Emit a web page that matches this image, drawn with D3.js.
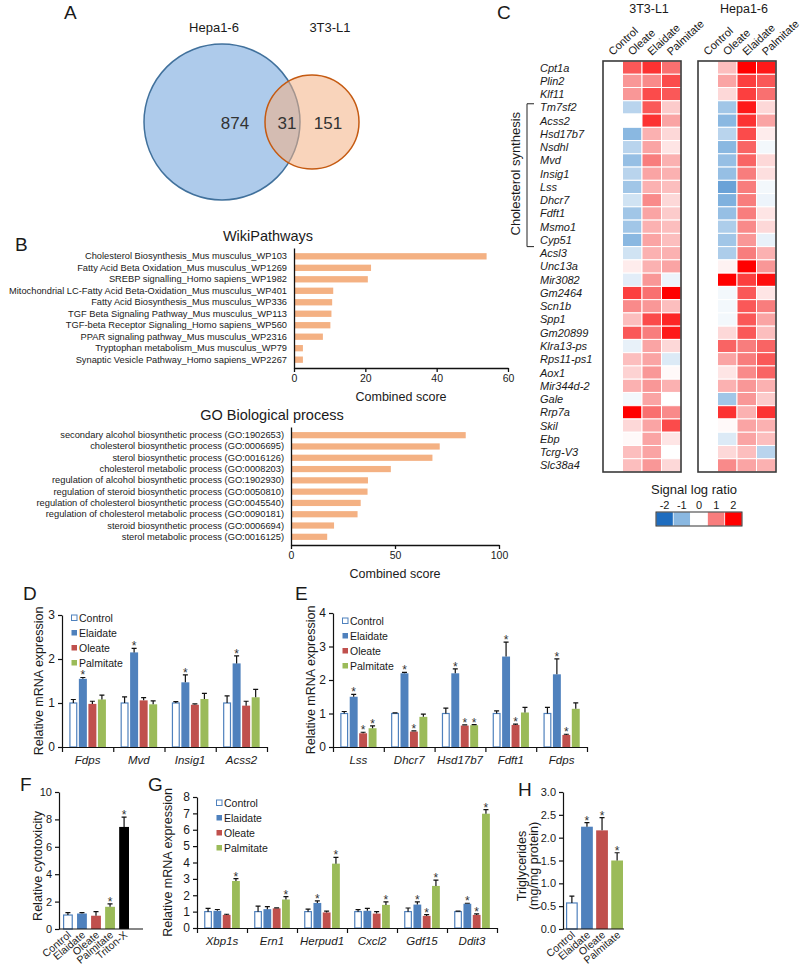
<!DOCTYPE html>
<html>
<head>
<meta charset="utf-8">
<script src="https://cdn.jsdelivr.net/npm/d3@7"></script>
<style>
  body { margin: 0; background: #fff; }
  svg text { font-family: Arial, "Liberation Sans", sans-serif; fill: #1a1a1a; }
</style>
</head>
<body>
<svg id="fig" width="800" height="967"></svg>
<script>
// ---------- data ----------
var vennSets = ["Hepa1-6", "3T3-L1"];
var vennCounts = [874, 31, 151];

var wikiTerms = ["Cholesterol Biosynthesis_Mus musculus_WP103",
    "Fatty Acid Beta Oxidation_Mus musculus_WP1269",
    "SREBP signalling_Homo sapiens_WP1982",
    "Mitochondrial LC-Fatty Acid Beta-Oxidation_Mus musculus_WP401",
    "Fatty Acid Biosynthesis_Mus musculus_WP336",
    "TGF Beta Signaling Pathway_Mus musculus_WP113",
    "TGF-beta Receptor Signaling_Homo sapiens_WP560",
    "PPAR signaling pathway_Mus musculus_WP2316",
    "Tryptophan metabolism_Mus musculus_WP79",
    "Synaptic Vesicle Pathway_Homo sapiens_WP2267"];
var wikiScores = [54, 21.6, 20.7, 11.0, 10.7, 10.5, 10.2, 8.1, 2.5, 2.5];
var wikiTicks = [0, 20, 40, 60];

var goTerms = ["secondary alcohol biosynthetic process (GO:1902653)",
    "cholesterol biosynthetic process (GO:0006695)",
    "sterol biosynthetic process (GO:0016126)",
    "cholesterol metabolic process (GO:0008203)",
    "regulation of alcohol biosynthetic process (GO:1902930)",
    "regulation of steroid biosynthetic process (GO:0050810)",
    "regulation of cholesterol biosynthetic process (GO:0045540)",
    "regulation of cholesterol metabolic process (GO:0090181)",
    "steroid biosynthetic process (GO:0006694)",
    "sterol metabolic process (GO:0016125)"];
var goScores = [84, 71.5, 68, 48, 37, 36.8, 33.5, 32, 20.7, 17.4];
var goTicks = [0, 50, 100];

var heatGenes = ["Cpt1a", "Plin2", "Klf11", "Tm7sf2", "Acss2", "Hsd17b7", "Nsdhl", "Mvd",
    "Insig1", "Lss", "Dhcr7", "Fdft1", "Msmo1", "Cyp51", "Acsl3", "Unc13a", "Mir3082",
    "Gm2464", "Scn1b", "Spp1", "Gm20899", "Klra13-ps", "Rps11-ps1", "Aox1", "Mir344d-2",
    "Gale", "Rrp7a", "Skil", "Ebp", "Tcrg-V3", "Slc38a4"];
var heatCols = ["Control", "Oleate", "Elaidate", "Palmitate"];
// signal log ratio, columns as heatCols
var heat3T3 = [
    [0, 1.3, 1.6, 1.1], [0, 0.8, 0.9, 1.4], [0, 0.8, 1.4, 1.3], [0, -0.6, 1.3, 0.4],
    [0, 0.0, 1.6, 0.7], [0, -1.0, 0.6, 0.3], [0, -0.6, 0.7, 0.2], [0, -0.9, 1.0, 0.6],
    [0, -0.6, 0.7, 0.6], [0, -0.8, 0.6, 0.5], [0, -0.4, 0.9, 0.3], [0, -0.8, 0.7, 0.4],
    [0, -0.8, 0.6, 0.5], [0, -1.0, 0.7, 0.5], [0, -0.4, 0.6, 0.6], [0, 0.15, 0.6, 0.7],
    [0, -0.25, 0.8, -0.15], [0, 1.5, 1.1, 2.0], [0, 0.9, 0.8, 0.5], [0, 0.5, 1.4, 1.7],
    [0, 1.3, 1.0, 1.8], [0, -0.2, 0.7, 0.3], [0, 0.5, 0.7, -0.3], [0, 0.35, 0.8, 0.05],
    [0, 0.6, 0.8, 0.6], [0, -0.1, 0.7, 0.0], [0, 2.0, 1.1, 0.9], [0, 0.3, 0.7, 1.4],
    [0, 0.05, 0.7, 0.2], [0, 0.5, 0.7, 0.0], [0, 0.5, 0.8, 0.3]];
var heatHepa = [
    [0, 0.5, 2.0, 1.8], [0, 0.7, 1.5, 1.3], [0, 0.3, 1.5, 1.1], [0, -0.8, 1.8, 0.3],
    [0, -1.0, 1.6, 0.7], [0, -0.6, 1.4, 0.15], [0, -1.0, 1.2, -0.1], [0, -0.9, 1.2, 0.3],
    [0, -0.9, 1.0, 0.25], [0, -1.3, 1.0, -0.1], [0, -1.1, 1.0, -0.15], [0, -0.9, 1.0, 0.2],
    [0, -0.7, 0.9, 0.3], [0, -0.8, 0.8, -0.2], [0, -0.7, 1.0, 0.6], [0, 0.1, 2.0, 0.8],
    [0, 2.0, 1.5, 1.9], [0, -0.1, 1.3, 0.2], [0, -0.1, 1.3, 1.0], [0, -0.1, 1.3, 0.7],
    [0, 0.3, 1.3, 0.5], [0, 1.2, 1.0, 1.2], [0, 0.7, 1.0, 1.3], [0, 0.2, 0.9, 1.2],
    [0, 0.6, 0.8, 0.6], [0, -0.8, 0.8, 0.4], [0, 1.6, 0.6, 1.6], [0, 0.05, 0.7, 0.6],
    [0, -0.3, 0.7, 0.5], [0, 0.3, 0.5, -0.6], [0, 0.9, 0.7, 0.6]];
var legendTicks = [-2, -1, 0, 1, 2];

var treatments = ["Control", "Elaidate", "Oleate", "Palmitate"];

var dGenes = ["Fdps", "Mvd", "Insig1", "Acss2"];
var dMeans = [[1.0, 1.55, 0.98, 1.08], [1.0, 2.15, 1.06, 0.97], [1.0, 1.47, 0.96, 1.09], [1.0, 1.9, 0.94, 1.13]];
var dErrs = [[0.08, 0.03, 0.06, 0.1], [0.14, 0.09, 0.06, 0.08], [0.03, 0.17, 0.02, 0.13], [0.16, 0.17, 0.1, 0.18]];
var dSig = [[0, 1, 0, 0], [0, 1, 0, 0], [0, 1, 0, 0], [0, 1, 0, 0]];

var eGenes = ["Lss", "Dhcr7", "Hsd17b7", "Fdft1", "Fdps"];
var eMeans = [[1.0, 1.5, 0.41, 0.56], [1.0, 2.2, 0.46, 0.9], [1.0, 2.2, 0.64, 0.65], [1.0, 2.7, 0.66, 1.03], [1.0, 2.17, 0.36, 1.14]];
var eErrs = [[0.06, 0.07, 0.03, 0.07], [0.02, 0.03, 0.02, 0.08], [0.16, 0.13, 0.02, 0.02], [0.08, 0.43, 0.02, 0.15], [0.18, 0.46, 0.02, 0.18]];
var eSig = [[0, 1, 1, 1], [0, 1, 1, 0], [0, 1, 1, 1], [0, 1, 1, 0], [0, 1, 1, 0]];

var fGroups = ["Control", "Elaidate", "Oleate", "Palmitate", "Triton-X"];
var fMeans = [1.02, 1.13, 0.97, 1.62, 7.45];
var fErrs = [0.18, 0.07, 0.3, 0.22, 0.72];
var fSig = [0, 0, 0, 1, 1];

var gGenes = ["Xbp1s", "Ern1", "Herpud1", "Cxcl2", "Gdf15", "Ddit3"];
var gMeans = [[1.0, 1.05, 0.8, 2.87], [1.0, 1.15, 1.2, 1.74], [1.0, 1.53, 0.95, 3.93], [1.0, 1.05, 0.88, 1.41], [1.0, 1.43, 0.74, 2.57], [1.0, 1.48, 0.8, 6.98]];
var gErrs = [[0.2, 0.08, 0.04, 0.14], [0.33, 0.15, 0.03, 0.18], [0.15, 0.13, 0.08, 0.38], [0.12, 0.15, 0.12, 0.18], [0.22, 0.17, 0.08, 0.35], [0.03, 0.03, 0.06, 0.25]];
var gSig = [[0, 0, 0, 1], [0, 0, 0, 1], [0, 1, 0, 1], [0, 0, 0, 1], [0, 1, 1, 1], [0, 1, 1, 1]];

var hGroups = ["Control", "Elaidate", "Oleate", "Palmitate"];
var hMeans = [0.57, 2.24, 2.16, 1.5];
var hErrs = [0.15, 0.09, 0.28, 0.17];
var hSig = [0, 1, 1, 1];

// ---------- drawing ----------
var svg = d3.select("#fig");
var fills = { "Control": "#ffffff", "Elaidate": "#4f81bd", "Oleate": "#c0504d", "Palmitate": "#9bbb59", "Triton-X": "#000000" };
var blue = "#4f81bd";

// panel letters
[["A", 64, 19], ["B", 15, 251], ["C", 497, 19], ["D", 23, 600], ["E", 295, 600],
 ["F", 20, 791], ["G", 148, 791], ["H", 518, 796]].forEach(function (p) {
    svg.append("text").attr("x", p[1]).attr("y", p[2]).attr("font-size", 19).text(p[0]);
});

//
// A : venn
//
svg.append("circle").attr("cx", 222).attr("cy", 122).attr("r", 78)
    .attr("fill", "#aecbeb").attr("stroke", "#41719c").attr("stroke-width", 1.5);
svg.append("circle").attr("cx", 312).attr("cy", 122).attr("r", 47)
    .attr("fill", "#f4b183").attr("fill-opacity", 0.55)
    .attr("stroke", "#c55a11").attr("stroke-width", 1.5);
svg.append("text").attr("x", 214).attr("y", 32).attr("text-anchor", "middle").attr("font-size", 13).text(vennSets[0]);
svg.append("text").attr("x", 330).attr("y", 32).attr("text-anchor", "middle").attr("font-size", 13).text(vennSets[1]);
[[235, vennCounts[0]], [287, vennCounts[1]], [328, vennCounts[2]]].forEach(function (v) {
    svg.append("text").attr("x", v[0]).attr("y", 129).attr("text-anchor", "middle")
        .attr("font-size", 17).style("fill", "#333").text(v[1]);
});

//
// B : enrichment bars
//
function enrichChart(terms, scores, ticks, o) {
    var x = d3.scaleLinear().domain([0, ticks[ticks.length - 1]]).range([o.x0, o.x1]);
    var y = d3.scaleBand().domain(terms).range([o.y0, o.y1]).paddingInner(0.45).paddingOuter(0.45);
    var g = svg.append("g");

    g.selectAll("rect").data(scores).enter().append("rect")
        .attr("x", x(0))
        .attr("y", function (d, i) { return y(terms[i]); })
        .attr("width", function (d) { return x(d) - x(0); })
        .attr("height", y.bandwidth())
        .attr("fill", "#f4b183");

    var ya = g.append("g").attr("transform", "translate(" + x(0) + ",0)")
        .call(d3.axisLeft(y).tickSize(0).tickPadding(7).tickSizeOuter(0));
    ya.selectAll("text").attr("font-size", 9.3);
    ya.select(".domain").attr("stroke", "#111").attr("stroke-width", 1.3);

    var xa = g.append("g").attr("transform", "translate(0," + o.y1 + ")")
        .call(d3.axisBottom(x).tickValues(ticks).tickSize(4).tickSizeOuter(0).tickPadding(3));
    xa.selectAll("text").attr("font-size", 10.5);
    xa.selectAll("line, .domain").attr("stroke", "#111").attr("stroke-width", 1.3);

    g.append("text").attr("x", o.titleX).attr("y", o.titleY).attr("text-anchor", "middle")
        .attr("font-size", 14.5).text(o.title);
    g.append("text").attr("x", (o.x0 + o.x1) / 2).attr("y", o.y1 + 33).attr("text-anchor", "middle")
        .attr("font-size", 12.5).text("Combined score");
}
enrichChart(wikiTerms, wikiScores, wikiTicks, { x0: 294, x1: 508, y0: 248, y1: 368, title: "WikiPathways", titleX: 268, titleY: 241 });
enrichChart(goTerms, goScores, goTicks, { x0: 291, x1: 499, y0: 427, y1: 545, title: "GO Biological process", titleX: 272, titleY: 420 });

//
// C : heatmap
//
var heatColor = d3.scaleLinear().domain([-2, -1, 0, 1, 2])
    .range(["#1f6dbf", "#8ab8e1", "#ffffff", "#f87d7d", "#ff0000"]).clamp(true);
var hy = d3.scaleBand().domain(heatGenes).range([61, 472]);

function heatBlock(values, x0, name) {
    var hx = d3.scaleBand().domain(heatCols).range([x0, x0 + 78]);
    var g = svg.append("g");
    var cells = [];
    values.forEach(function (row, i) {
        row.forEach(function (v, j) { cells.push({ gene: heatGenes[i], col: heatCols[j], v: v }); });
    });
    g.selectAll("rect.cell").data(cells).enter().append("rect")
        .attr("class", "cell")
        .attr("x", function (d) { return hx(d.col); })
        .attr("y", function (d) { return hy(d.gene); })
        .attr("width", hx.bandwidth())
        .attr("height", hy.bandwidth())
        .attr("fill", function (d) { return heatColor(d.v); })
        .attr("stroke", "#fff").attr("stroke-width", 1);
    g.append("rect").attr("x", x0).attr("y", 61).attr("width", 78).attr("height", 411)
        .attr("fill", "none").attr("stroke", "#3a3a3a").attr("stroke-width", 1.6);
    g.selectAll("text.col").data(heatCols).enter().append("text")
        .attr("transform", function (d) { return "translate(" + (hx(d) + hx.bandwidth() / 2) + ",56) rotate(-43)"; })
        .attr("font-size", 11).text(function (d) { return d; });
    g.append("text").attr("x", x0 + 46).attr("y", 13).attr("text-anchor", "middle")
        .attr("font-size", 12.5).text(name);
}
heatBlock(heat3T3, 603, "3T3-L1");
heatBlock(heatHepa, 698, "Hepa1-6");

svg.append("g").selectAll("text").data(heatGenes).enter().append("text")
    .attr("x", 540)
    .attr("y", function (d) { return hy(d) + hy.bandwidth() / 2; })
    .attr("dy", "0.36em").attr("font-size", 11).style("font-style", "italic")
    .text(function (d) { return d; });

// bracket for the cholesterol genes
svg.append("path")
    .attr("d", "M534," + (hy("Tm7sf2") + 3) + "H527V" + (hy("Cyp51") + hy.bandwidth()) + "H534")
    .attr("fill", "none").attr("stroke", "#222").attr("stroke-width", 1);
svg.append("text")
    .attr("transform", "translate(515," + ((hy("Tm7sf2") + hy("Cyp51") + hy.bandwidth()) / 2) + ") rotate(-90)")
    .attr("text-anchor", "middle").attr("dy", "0.35em").attr("font-size", 13).text("Cholesterol synthesis");

// colour legend
var lx = d3.scaleBand().domain(legendTicks).range([656, 742]);
svg.append("text").attr("x", 694).attr("y", 494).attr("text-anchor", "middle").attr("font-size", 13).text("Signal log ratio");
svg.append("g").selectAll("rect").data(legendTicks).enter().append("rect")
    .attr("x", function (d) { return lx(d); }).attr("y", 512)
    .attr("width", lx.bandwidth()).attr("height", 14)
    .attr("fill", function (d) { return heatColor(d); })
    .attr("stroke", "#fff").attr("stroke-width", 0.6);
svg.append("rect").attr("x", 656).attr("y", 512).attr("width", 86).attr("height", 14)
    .attr("fill", "none").attr("stroke", "#333").attr("stroke-width", 1);
svg.append("g").selectAll("text").data(legendTicks).enter().append("text")
    .attr("x", function (d) { return lx(d) + lx.bandwidth() / 2; }).attr("y", 509)
    .attr("text-anchor", "middle").attr("font-size", 11).text(function (d) { return d; });

//
// D, E, G : grouped bars
//
function styleAxis(a, size) {
    a.selectAll("text").attr("font-size", size);
    a.selectAll("line, .domain").attr("stroke", "#111").attr("stroke-width", 1.2);
}

function errorBars(g, rows, y, cap) {
    g.selectAll("path.err").data(rows).enter().append("path")
        .attr("class", "err")
        .attr("d", function (d) {
            var y1 = y(d.m), y2 = y(d.m + d.e);
            return "M" + d.cx + "," + y1 + "V" + y2 + "M" + (d.cx - cap) + "," + y2 + "H" + (d.cx + cap);
        })
        .attr("fill", "none").attr("stroke", "#111").attr("stroke-width", 1.2);
    g.selectAll("text.star").data(rows.filter(function (d) { return d.s; })).enter().append("text")
        .attr("x", function (d) { return d.cx; })
        .attr("y", function (d) { return y(d.m + d.e) + 2; })
        .attr("text-anchor", "middle").attr("font-size", 12).style("fill", "#333").text("*");
}

function groupedChart(genes, means, errs, sig, o) {
    var g = svg.append("g");
    var x = d3.scaleBand().domain(genes).range([o.x0, o.x1]);
    var xs = d3.scaleBand().domain(treatments).range([0, x.bandwidth()]).paddingInner(0.16).paddingOuter(0.77);
    var y = d3.scaleLinear().domain([0, o.yMax]).range([o.yBot, o.yTop]);

    var rows = [];
    genes.forEach(function (gene, i) {
        treatments.forEach(function (t, j) {
            rows.push({ t: t, m: means[i][j], e: errs[i][j], s: sig[i][j],
                x: x(gene) + xs(t), cx: x(gene) + xs(t) + xs.bandwidth() / 2 });
        });
    });

    g.selectAll("rect.bar").data(rows).enter().append("rect")
        .attr("class", "bar")
        .attr("x", function (d) { return d.t == "Control" ? d.x + 0.6 : d.x; })
        .attr("y", function (d) { return y(d.m); })
        .attr("width", function (d) { return d.t == "Control" ? xs.bandwidth() - 1.2 : xs.bandwidth(); })
        .attr("height", function (d) { return y(0) - y(d.m); })
        .attr("fill", function (d) { return fills[d.t]; })
        .attr("stroke", function (d) { return d.t == "Control" ? blue : "none"; })
        .attr("stroke-width", 1.2);
    errorBars(g, rows, y, 2.5);

    styleAxis(g.append("g").attr("transform", "translate(" + o.x0 + ",0)")
        .call(d3.axisLeft(y).tickValues(d3.range(o.yMax + 1)).tickFormat(d3.format("d"))
            .tickSize(4).tickSizeOuter(0).tickPadding(3)), 12);

    var xb = d3.scaleLinear().domain([0, genes.length]).range([o.x0, o.x1]);
    styleAxis(g.append("g").attr("transform", "translate(0," + o.yBot + ")")
        .call(d3.axisBottom(xb).tickValues(d3.range(genes.length + 1)).tickSize(5).tickSizeOuter(0).tickFormat("")), 11);

    var la = g.append("g").attr("transform", "translate(0," + o.yBot + ")")
        .call(d3.axisBottom(x).tickSize(0).tickPadding(9));
    la.select(".domain").remove();
    la.selectAll("text").attr("font-size", 11.5).style("font-style", "italic");

    // legend
    var lg = g.append("g").selectAll("g").data(treatments).enter().append("g")
        .attr("transform", function (d, i) { return "translate(" + o.lx + "," + (o.ly + i * 15) + ")"; });
    lg.append("rect").attr("x", 0.5).attr("y", -3).attr("width", 5.5).attr("height", 5.5)
        .attr("fill", function (d) { return fills[d]; })
        .attr("stroke", function (d) { return d == "Control" ? blue : "none"; });
    lg.append("text").attr("x", 8).attr("dy", "0.35em").attr("font-size", 10.5).text(function (d) { return d; });

    g.append("text")
        .attr("transform", "translate(" + o.tx + "," + (o.yTop + o.yBot) / 2 + ") rotate(-90)")
        .attr("text-anchor", "middle").attr("dy", "0.35em").attr("font-size", 12.5)
        .text("Relative mRNA expression");
}

groupedChart(dGenes, dMeans, dErrs, dSig, { x0: 62, x1: 267, yTop: 615, yBot: 747, yMax: 3, lx: 71, ly: 618, tx: 39 });
groupedChart(eGenes, eMeans, eErrs, eSig, { x0: 333, x1: 587, yTop: 613, yBot: 747, yMax: 4, lx: 342, ly: 621, tx: 311 });
groupedChart(gGenes, gMeans, gErrs, gSig, { x0: 197, x1: 497, yTop: 797, yBot: 928, yMax: 8, lx: 216, ly: 803, tx: 168 });

//
// F, H : single bars
//
function singleChart(groups, means, errs, sig, o) {
    var g = svg.append("g");
    var x = d3.scaleBand().domain(groups).range(o.band).paddingInner(o.pad);
    var y = d3.scaleLinear().domain([0, o.yMax]).range([o.yBot, o.yTop]);
    var rows = groups.map(function (t, i) {
        return { t: t, m: means[i], e: errs[i], s: sig[i], x: x(t), cx: x(t) + x.bandwidth() / 2 };
    });

    g.selectAll("rect.bar").data(rows).enter().append("rect")
        .attr("class", "bar")
        .attr("x", function (d) { return d.t == "Control" ? d.x + 0.6 : d.x; })
        .attr("y", function (d) { return y(d.m); })
        .attr("width", function (d) { return d.t == "Control" ? x.bandwidth() - 1.2 : x.bandwidth(); })
        .attr("height", function (d) { return y(0) - y(d.m); })
        .attr("fill", function (d) { return fills[d.t]; })
        .attr("stroke", function (d) { return d.t == "Control" ? blue : "none"; })
        .attr("stroke-width", 1.2);
    errorBars(g, rows, y, 2.5);

    styleAxis(g.append("g").attr("transform", "translate(" + o.x0 + ",0)")
        .call(d3.axisLeft(y).tickValues(o.ticks).tickFormat(d3.format(o.fmt)).tickSize(4).tickSizeOuter(0).tickPadding(3)), 11);
    g.append("line").attr("x1", o.x0).attr("x2", o.x1).attr("y1", o.yBot).attr("y2", o.yBot)
        .attr("stroke", "#111").attr("stroke-width", 1.2);

    g.selectAll("text.cat").data(groups).enter().append("text")
        .attr("transform", function (d) { return "translate(" + (x(d) + x.bandwidth() / 2 + 4) + "," + (o.yBot + 7) + ") rotate(-40)"; })
        .attr("text-anchor", "end").attr("font-size", 10.5).text(function (d) { return d; });

    o.title.forEach(function (t, i) {
        g.append("text")
            .attr("transform", "translate(" + (o.tx + i * 12) + "," + o.ty + ") rotate(-90)")
            .attr("text-anchor", "middle").attr("dy", "0.35em").attr("font-size", 12.5).text(t);
    });
}

singleChart(fGroups, fMeans, fErrs, fSig, { x0: 59, x1: 143, band: [63, 129], pad: 0.3, yTop: 792, yBot: 929, yMax: 10,
    ticks: [0, 2, 4, 6, 8, 10], fmt: "d", tx: 38, ty: 866, title: ["Relative cytotoxicity"] });
singleChart(hGroups, hMeans, hErrs, hSig, { x0: 563, x1: 624, band: [566, 623], pad: 0.22, yTop: 792, yBot: 929, yMax: 3,
    ticks: [0, 0.5, 1, 1.5, 2, 2.5, 3], fmt: ".1f", tx: 522, ty: 866, title: ["Triglycerides", "(mg/mg protein)"] });
</script>
</body>
</html>
